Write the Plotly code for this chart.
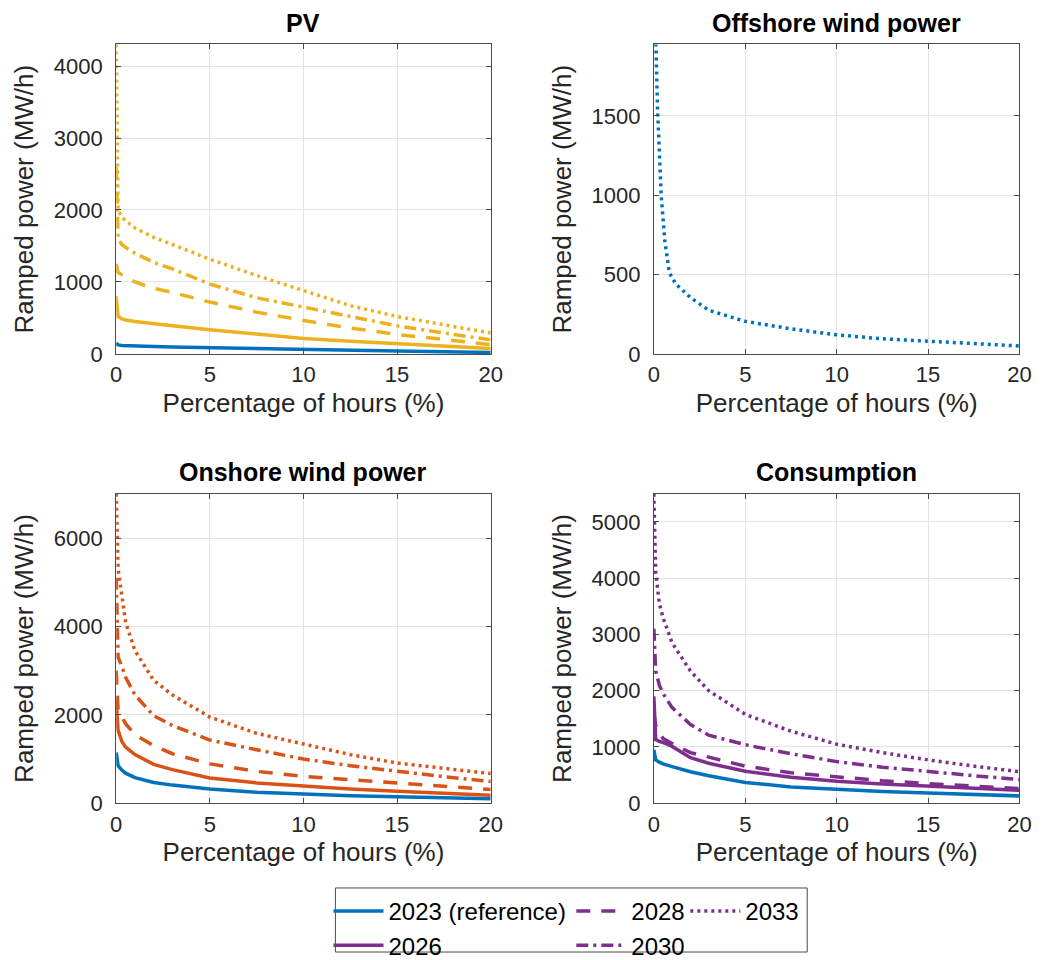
import plotly.graph_objects as go

# ---------------- data ----------------
X = [0, 0.05, 0.1, 0.3, 0.5, 1, 2, 3, 5, 7.5, 10, 12.5, 15, 17.5, 20]

YEARS = ["2023 (reference)", "2026", "2028", "2030", "2033"]

PV_2023 = [150, 135, 125, 118, 115, 110, 102, 96, 85, 72, 62, 50, 40, 30, 20]
PV_2026 = [800, 650, 520, 485, 470, 450, 415, 390, 335, 270, 215, 175, 140, 108, 75]
PV_2028 = [1250, 1180, 1130, 1100, 1070, 1000, 910, 855, 720, 580, 465, 360, 270, 195, 130]
PV_2030 = [2600, 1900, 1600, 1520, 1480, 1400, 1270, 1180, 970, 780, 650, 520, 390, 290, 195]
PV_2033 = [4300, 2300, 2000, 1900, 1850, 1750, 1620, 1520, 1315, 1090, 880, 670, 520, 400, 290]

OFF_X = [0.1, 0.2, 0.4, 0.6, 0.85, 1.2, 2, 3, 5, 7.5, 10, 12.5, 15, 17.5, 20]
OFF_2033 = [2000, 1550, 1000, 710, 510, 440, 355, 275, 205, 158, 120, 95, 80, 64, 50]

ON_2023 = [1150, 950, 850, 750, 680, 580, 470, 410, 320, 250, 205, 170, 145, 120, 100]
ON_2026 = [2300, 1900, 1650, 1400, 1270, 1100, 880, 760, 570, 460, 380, 320, 270, 225, 180]
ON_2028 = [3000, 2200, 2100, 1950, 1800, 1550, 1300, 1120, 890, 720, 610, 530, 455, 380, 310]
ON_2030 = [5100, 4000, 3300, 3100, 2850, 2450, 1980, 1760, 1430, 1210, 1000, 850, 720, 600, 490]
ON_2033 = [7000, 6000, 5300, 4700, 4100, 3450, 2780, 2450, 1950, 1580, 1340, 1100, 910, 780, 670]

CON_2023 = [950, 850, 770, 730, 700, 650, 560, 490, 370, 290, 245, 210, 180, 155, 130]
CON_2026 = [1900, 1400, 1130, 1100, 1080, 1010, 810, 710, 570, 460, 390, 340, 300, 265, 230]
CON_2028 = [1600, 1450, 1380, 1250, 1150, 1060, 900, 820, 660, 540, 470, 400, 350, 300, 260]
CON_2030 = [3100, 2600, 2350, 2100, 1950, 1700, 1400, 1210, 1040, 880, 740, 640, 560, 490, 420]
CON_2033 = [5500, 4400, 4100, 3550, 3300, 2850, 2350, 2000, 1580, 1280, 1050, 900, 770, 660, 560]

TITLES = ["PV", "Offshore wind power", "Onshore wind power", "Consumption"]
X_LABEL = "Percentage of hours (%)"
Y_LABEL = "Ramped power (MW/h)"

# ---------------- style ----------------
BLUE = "#0072BD"
ORANGE = "#D95319"
YELLOW = "#EDB120"
PURPLE = "#7E2F8E"
FONT = "Liberation Sans, Arial, sans-serif"
TXT = "#262626"
W, H = 1052, 960
LW = 3.5
TICK_SIZE = 22
LABEL_SIZE = 26
TITLE_SIZE = 25
LEGEND_SIZE = 24
DASH = {"2023 (reference)": "solid", "2026": "solid", "2028": "14px,11px",
        "2030": "12px,5px,3px,5px", "2033": "3px,4px"}

fig = go.Figure()

def px_x(p):
    return p / W

def px_y(p):
    return 1 - p / H

# subplot boxes in pixels (left, right, top, bottom)
boxes = {
    1: (104, 485, 37, 351),
    2: (651, 1023, 37, 351),
    3: (104, 485, 493, 807),
    4: (651, 1023, 493, 807),
}
yranges = {1: [0, 4300], 2: [0, 1950], 3: [0, 7000], 4: [0, 5500]}
ydticks = {1: 1000, 2: 500, 3: 2000, 4: 1000}

def add(xv, yv, color, year, idx, showlegend=False, legend=None):
    suffix = "" if idx == 1 else str(idx)
    fig.add_trace(go.Scatter(
        x=xv, y=yv, mode="lines", name=year,
        line=dict(color=color, width=LW, dash=DASH[year]),
        xaxis="x" + suffix, yaxis="y" + suffix,
        showlegend=showlegend, legend=legend,
    ))

# PV
for yr, vals, col in [("2023 (reference)", PV_2023, BLUE), ("2026", PV_2026, YELLOW),
                      ("2028", PV_2028, YELLOW), ("2030", PV_2030, YELLOW), ("2033", PV_2033, YELLOW)]:
    add(X, vals, col, yr, 1)
# Offshore
add(OFF_X, OFF_2033, BLUE, "2033", 2)
# Onshore
for yr, vals, col in [("2023 (reference)", ON_2023, BLUE), ("2026", ON_2026, ORANGE),
                      ("2028", ON_2028, ORANGE), ("2030", ON_2030, ORANGE), ("2033", ON_2033, ORANGE)]:
    add(X, vals, col, yr, 3)
# Consumption (carries the legend)
leg_of = {"2023 (reference)": "legend", "2026": "legend", "2028": "legend2",
          "2030": "legend2", "2033": "legend3"}
for yr, vals, col in [("2023 (reference)", CON_2023, BLUE), ("2026", CON_2026, PURPLE),
                      ("2028", CON_2028, PURPLE), ("2030", CON_2030, PURPLE), ("2033", CON_2033, PURPLE)]:
    add(X, vals, col, yr, 4, showlegend=True, legend=leg_of[yr])

axis_common = dict(
    showline=True, linecolor="#4a4a4a", linewidth=1, mirror="ticks",
    ticks="inside", ticklen=5, tickcolor="#4a4a4a",
    showgrid=True, gridcolor="#e3e3e3", gridwidth=1, zeroline=False,
    tickfont=dict(family=FONT, size=TICK_SIZE, color=TXT),
)

layout = dict(
    width=W, height=H, margin=dict(l=0, r=0, t=0, b=0),
    paper_bgcolor="white", plot_bgcolor="white",
    font=dict(family=FONT, color=TXT),
)
for i, (l, r, t, b) in boxes.items():
    suffix = "" if i == 1 else str(i)
    layout["xaxis" + suffix] = dict(
        axis_common, domain=[px_x(l), px_x(r)], range=[0, 20], dtick=5, tick0=0,
        anchor="y" + suffix, ticklabelstandoff=1,
        title=dict(text=X_LABEL, font=dict(family=FONT, size=LABEL_SIZE, color=TXT), standoff=7),
    )
    layout["yaxis" + suffix] = dict(
        axis_common, domain=[px_y(b), px_y(t)], range=yranges[i], dtick=ydticks[i], tick0=0,
        anchor="x" + suffix, ticklabelstandoff=8,
        title=dict(text=Y_LABEL, font=dict(family=FONT, size=LABEL_SIZE, color=TXT), standoff=12),
    )

annotations = []
for i, (l, r, t, b) in boxes.items():
    annotations.append(dict(
        text="<b>" + TITLES[i - 1] + "</b>", x=px_x((l + r) / 2), y=px_y(t - 22),
        xref="paper", yref="paper", xanchor="center", yanchor="middle",
        showarrow=False, font=dict(family=FONT, size=TITLE_SIZE, color="black"),
    ))
layout["annotations"] = annotations

leg_common = dict(
    orientation="v", xanchor="left", yanchor="top", bgcolor="rgba(0,0,0,0)",
    borderwidth=0, font=dict(family=FONT, size=LEGEND_SIZE, color="black"),
    itemwidth=50, tracegroupgap=0, itemclick=False, itemdoubleclick=False,
)
layout["legend"] = dict(leg_common, x=px_x(320), y=px_y(894))
layout["legend2"] = dict(leg_common, x=px_x(567), y=px_y(894))
layout["legend3"] = dict(leg_common, x=px_x(683), y=px_y(894))

layout["shapes"] = [dict(
    type="rect", xref="paper", yref="paper",
    x0=px_x(327), x1=px_x(807), y0=px_y(958), y1=px_y(893),
    line=dict(color="#4a4a4a", width=1), fillcolor="white", layer="below",
)]

fig.update_layout(layout)
fig.write_html("out.html")
